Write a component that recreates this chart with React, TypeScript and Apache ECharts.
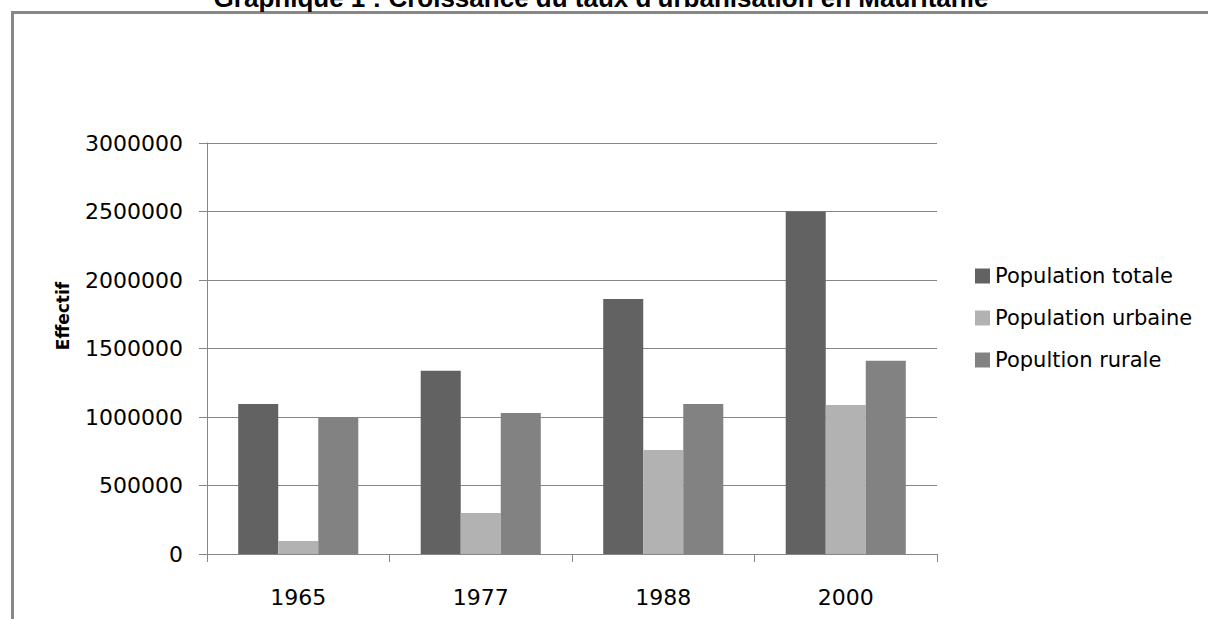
import React, { useEffect, useRef } from "react";
import * as echarts from "echarts";

const titleText = "Graphique 1 : Croissance du taux d'urbanisation en Mauritanie";
const yAxisName = "Effectif";
const categories = ["1965", "1977", "1988", "2000"];
const seriesNames = ["Population totale", "Population urbaine", "Popultion rurale"];
const popTotale = [1095000, 1338000, 1862000, 2500000];
const popUrbaine = [95000, 300000, 760000, 1088000];
const popRurale = [998000, 1030000, 1095000, 1410000];
const seriesColors = ["#626262", "#b2b2b2", "#828282"];
const yMin = 0;
const yMax = 3000000;
const yInterval = 500000;

export default function App() {
  const ref = useRef<HTMLDivElement>(null);
  useEffect(() => {
    if (!ref.current) return;
    const chart = echarts.init(ref.current, undefined, { renderer: "svg" });
    const font = "DejaVu Sans";
    const values = [popTotale, popUrbaine, popRurale];
    chart.setOption({
      animation: false,
      backgroundColor: "#ffffff",
      grid: { left: 207, right: 271, top: 143, bottom: 65, containLabel: false },
      legend: {
        orient: "vertical",
        left: 970,
        top: 260,
        itemWidth: 15,
        itemHeight: 15,
        itemGap: 20,
        icon: "rect",
        textStyle: { fontFamily: font, fontSize: 21, color: "#000", lineHeight: 22 },
        data: seriesNames,
      },
      xAxis: {
        type: "category",
        data: categories,
        axisLine: { show: true, lineStyle: { color: "#868686", width: 1 } },
        axisTick: { show: true, length: 8, lineStyle: { color: "#868686" } },
        axisLabel: { fontFamily: font, fontSize: 22, color: "#000", margin: 32 },
        splitLine: { show: false },
      },
      yAxis: {
        type: "value",
        min: yMin,
        max: yMax,
        interval: yInterval,
        axisLine: { show: true, lineStyle: { color: "#868686", width: 1 } },
        axisTick: { show: true, length: 8, lineStyle: { color: "#868686" } },
        axisLabel: {
          fontFamily: font,
          fontSize: 22,
          color: "#000",
          margin: 24,
          formatter: (v: number) => String(v),
        },
        splitLine: { show: true, lineStyle: { color: "#868686", width: 1 } },
      },
      series: seriesNames.map((name, i) => ({
        name,
        type: "bar",
        data: values[i],
        itemStyle: { color: seriesColors[i] },
        barGap: "0%",
        barCategoryGap: "34.2%",
      })),
      graphic: [
        {
          type: "line",
          shape: { x1: 12.5, y1: 12.5, x2: 1208, y2: 12.5 },
          style: { stroke: "#888888", lineWidth: 3 },
        },
        {
          type: "line",
          shape: { x1: 12.5, y1: 11, x2: 12.5, y2: 619 },
          style: { stroke: "#888888", lineWidth: 3 },
        },
        {
          type: "text",
          x: 601,
          y: 11,
          style: {
            text: titleText,
            fontFamily: "Liberation Sans",
            fontWeight: "bold",
            fontSize: 26,
            fill: "#000",
            textAlign: "center",
            textVerticalAlign: "bottom",
          },
        },
        {
          type: "text",
          x: 63,
          y: 316,
          rotation: Math.PI / 2,
          style: {
            text: yAxisName,
            fontFamily: font,
            fontWeight: "bold",
            fontSize: 17,
            fill: "#000",
            textAlign: "center",
            textVerticalAlign: "middle",
          },
        },
      ],
    });
    return () => chart.dispose();
  }, []);
  return (
    <div
      ref={ref}
      style={{ width: 1208, height: 619, position: "absolute", left: 0, top: 0 }}
    />
  );
}
